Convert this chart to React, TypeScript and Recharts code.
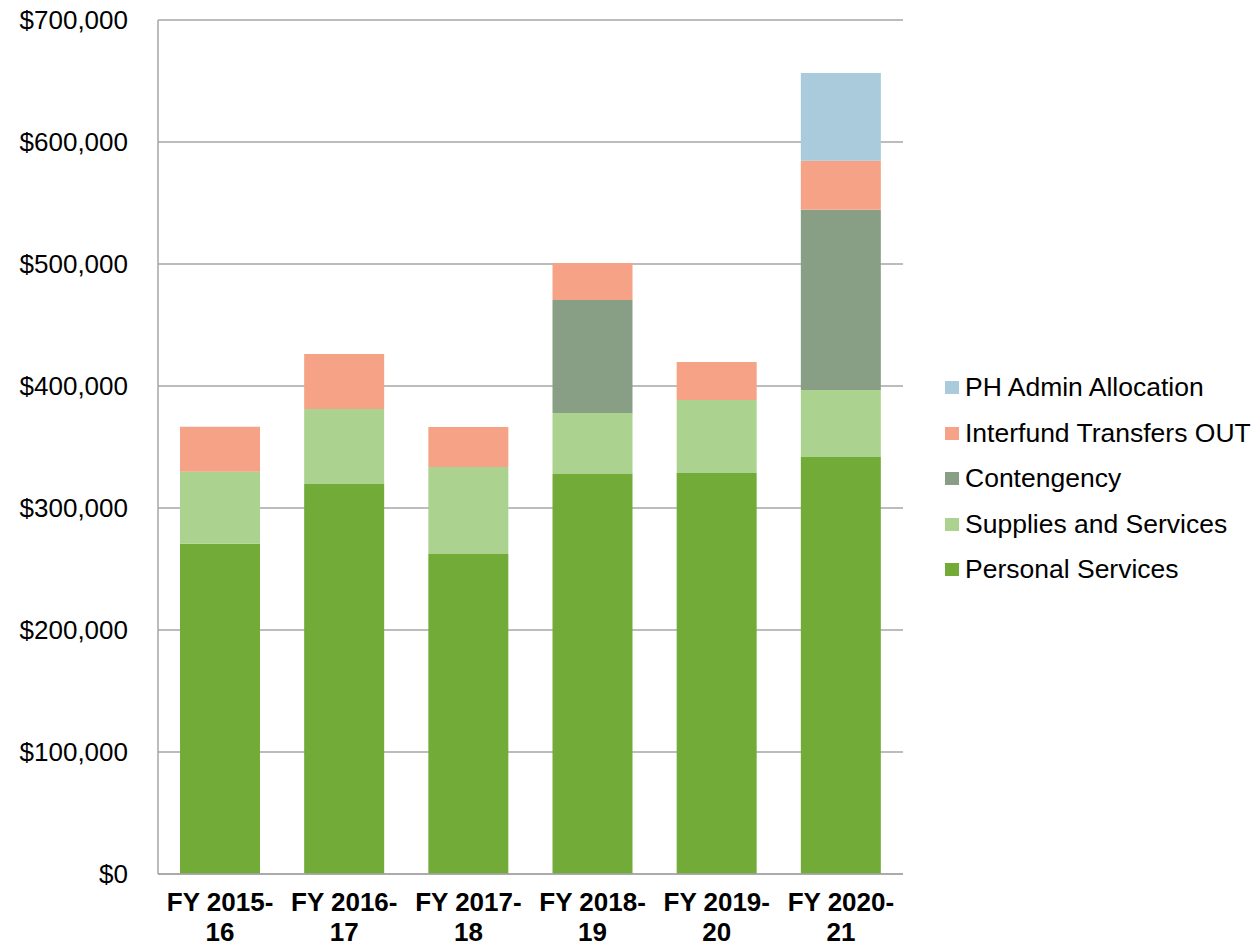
import { BarChart, Bar, XAxis, YAxis, CartesianGrid } from "recharts";

const YEARS = ["FY 2015-16", "FY 2016-17", "FY 2017-18", "FY 2018-19", "FY 2019-20", "FY 2020-21"];

const PERSONAL = [270700, 319700, 262300, 327900, 328700, 341800];
const SUPPLIES = [59000, 61400, 71300, 50000, 59800, 54900];
const CONTINGENCY = [0, 0, 0, 92600, 0, 147700];
const INTERFUND = [36900, 45100, 32800, 30300, 31200, 40200];
const PH_ADMIN = [0, 0, 0, 0, 0, 72000];

const Y_TICKS = [0, 100000, 200000, 300000, 400000, 500000, 600000, 700000];

const SERIES = [
  { key: "personal", name: "Personal Services", color: "#72AB38" },
  { key: "supplies", name: "Supplies and Services", color: "#ABD38F" },
  { key: "contingency", name: "Contengency", color: "#889F86" },
  { key: "interfund", name: "Interfund Transfers OUT", color: "#F5A286" },
  { key: "ph", name: "PH Admin Allocation", color: "#A9CBDB" },
];

const FONT = "'Liberation Sans', Arial, sans-serif";

const data = YEARS.map((year, i) => ({
  year,
  personal: PERSONAL[i],
  supplies: SUPPLIES[i],
  contingency: CONTINGENCY[i],
  interfund: INTERFUND[i],
  ph: PH_ADMIN[i],
}));

const fmtDollar = (v: number) => "$" + v.toLocaleString("en-US");

// two-line bold category label, split after the hyphen
function YearTick(props: any) {
  const { x, y, payload } = props;
  const label: string = payload.value;
  const idx = label.indexOf("-");
  const first = label.slice(0, idx + 1);
  const second = label.slice(idx + 1);
  return (
    <g>
      <text x={x} y={y + 37} textAnchor="middle" fontFamily={FONT} fontWeight="bold" fontSize={26} fill="#000">
        {first}
      </text>
      <text x={x} y={y + 67} textAnchor="middle" fontFamily={FONT} fontWeight="bold" fontSize={26} fill="#000">
        {second}
      </text>
    </g>
  );
}

function LegendBox() {
  return (
    <div style={{ position: "absolute", left: 945, top: 365, fontFamily: FONT, fontSize: 26.5, color: "#000" }}>
      {[...SERIES].reverse().map((s) => (
        <div key={s.key} style={{ height: 45.5, display: "flex", alignItems: "center", whiteSpace: "nowrap" }}>
          <span style={{ width: 14, height: 13, background: s.color, marginRight: 6, display: "inline-block" }} />
          {s.name}
        </div>
      ))}
    </div>
  );
}

export default function App() {
  return (
    <div style={{ position: "absolute", left: 0, top: 0, width: 1257, height: 948, background: "#fff" }}>
      <BarChart
        width={1257}
        height={948}
        data={data}
        margin={{ top: 20, right: 354, left: 8, bottom: 0 }}
        barCategoryGap="18%"
      >
        <CartesianGrid vertical={false} stroke="#A6A6A6" strokeWidth={1.5} />
        <XAxis
          dataKey="year"
          height={74}
          tick={<YearTick />}
          tickLine={false}
          tickSize={0}
          tickMargin={0}
          interval={0}
          axisLine={{ stroke: "#A6A6A6", strokeWidth: 1.5 }}
        />
        <YAxis
          width={150}
          domain={[0, 700000]}
          ticks={Y_TICKS}
          tickFormatter={fmtDollar}
          tickLine={false}
          tickSize={0}
          tickMargin={30}
          axisLine={{ stroke: "#A6A6A6", strokeWidth: 1.5 }}
          tick={{ fontFamily: FONT, fontSize: 26, fill: "#000" }}
        />
        {SERIES.map((s) => (
          <Bar
            key={s.key}
            dataKey={s.key}
            name={s.name}
            stackId="a"
            fill={s.color}
            barSize={80}
            isAnimationActive={false}
          />
        ))}
      </BarChart>
      <LegendBox />
    </div>
  );
}
